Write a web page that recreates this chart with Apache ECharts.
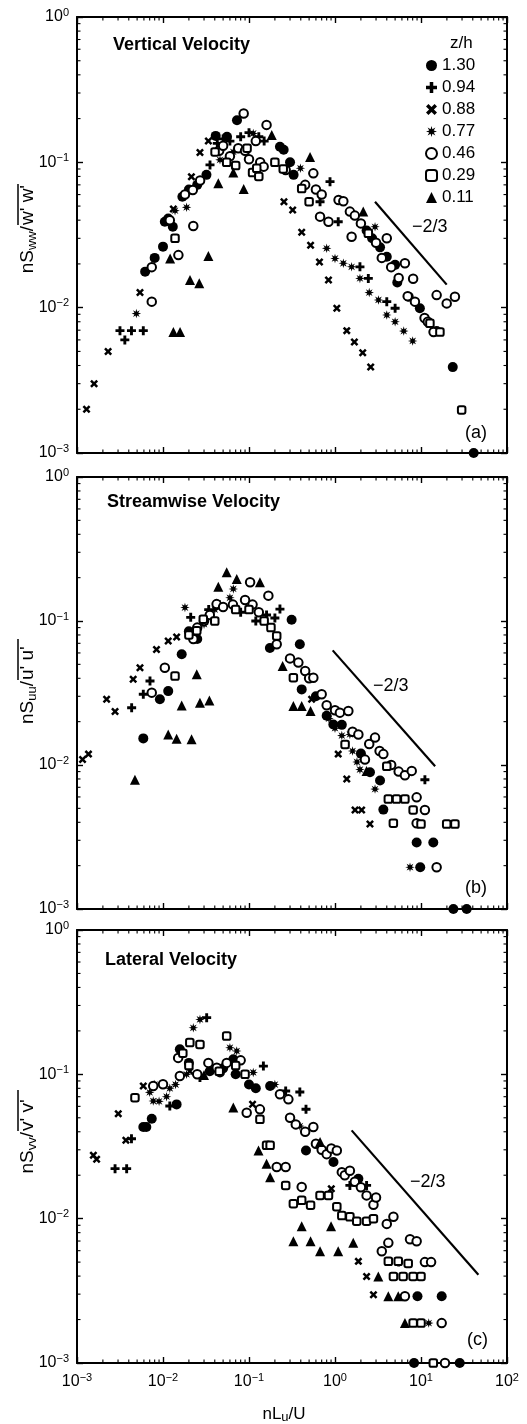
<!DOCTYPE html>
<html><head><meta charset="utf-8">
<script src="https://cdn.jsdelivr.net/npm/echarts@6/dist/echarts.min.js"></script>
<style>html,body{margin:0;padding:0;background:#fff}#c{width:527px;height:1424px}</style>
</head><body><div id="c"></div>
<script>
// ---------------- data ----------------
const zhLevels = ['1.30', '0.94', '0.88', '0.77', '0.46', '0.29', '0.11'];
const panelTitles = ['Vertical Velocity', 'Streamwise Velocity', 'Lateral Velocity'];
const panelTags = ['(a)', '(b)', '(c)'];
const velLetters = ['w', 'u', 'v'];
const slopeText = '\u22122/3';
const X_MIN = 1e-3, X_MAX = 1e2, Y_MIN = 1e-3, Y_MAX = 1;
const minorMultipliers = [2, 3, 4, 5, 6, 7, 8, 9];

// panel (a) vertical velocity
const a130 = [[0.0062,0.0177],[0.008,0.022],[0.010,0.0263],[0.0105,0.039],[0.0115,0.041],[0.013,0.036],[0.0168,0.058],[0.02,0.065],[0.025,0.07],[0.032,0.082],[0.041,0.152],[0.0555,0.15],[0.0725,0.195],[0.229,0.128],[0.253,0.122],[0.30,0.10],[0.33,0.082],[2.33,0.034],[2.7,0.03],[3.34,0.026],[4.0,0.0224],[5.0,0.0197],[5.3,0.0149],[7.2,0.0119],[9.7,0.0099],[15.2,0.0069],[23.4,0.0039],[41,0.001]];
const a094 = [[0.00316,0.00695],[0.0036,0.006],[0.0043,0.00695],[0.0059,0.00695],[0.0352,0.096],[0.0428,0.135],[0.05,0.145],[0.06,0.14],[0.08,0.15],[0.1,0.16],[0.13,0.15],[0.15,0.14],[0.875,0.0736],[0.67,0.0536],[1.09,0.039],[1.95,0.0191],[2.44,0.0159],[4.0,0.011],[5.0,0.0099]];
const a088 = [[0.00129,0.002],[0.00158,0.003],[0.0023,0.005],[0.0054,0.0127],[0.0132,0.0477],[0.0214,0.0797],[0.0269,0.117],[0.0337,0.14],[0.255,0.0536],[0.322,0.047],[0.41,0.033],[0.52,0.0269],[0.66,0.0206],[0.84,0.0155],[1.05,0.0099],[1.37,0.00695],[1.68,0.0058],[2.1,0.0049],[2.6,0.0039]];
const a077 = [[0.0049,0.0091],[0.0138,0.0465],[0.0188,0.049],[0.046,0.104],[0.0657,0.118],[0.112,0.158],[0.396,0.091],[2.92,0.036],[0.80,0.0256],[1.0,0.0218],[1.25,0.0202],[1.56,0.0191],[1.95,0.0159],[2.5,0.0127],[3.2,0.0113],[4.0,0.0089],[5.0,0.008],[6.3,0.0069],[8.0,0.0059]];
const a046 = [[0.0074,0.011],[0.0074,0.019],[0.012,0.04],[0.0151,0.023],[0.018,0.06],[0.0225,0.0365],[0.0222,0.0645],[0.027,0.075],[0.045,0.12],[0.05,0.13],[0.06,0.11],[0.075,0.125],[0.0867,0.217],[0.09,0.12],[0.1,0.105],[0.12,0.14],[0.135,0.1],[0.16,0.181],[0.148,0.0934],[0.267,0.0886],[0.45,0.07],[0.56,0.084],[0.6,0.065],[0.7,0.06],[0.67,0.0423],[0.84,0.039],[1.1,0.055],[1.25,0.054],[1.49,0.0458],[1.56,0.0308],[1.7,0.043],[2.0,0.038],[3.0,0.028],[3.5,0.022],[4.0,0.030],[4.5,0.019],[5.5,0.016],[6.5,0.0202],[7,0.012],[8.1,0.0158],[8.5,0.011],[11,0.0085],[12,0.008],[14,0.0068],[15.2,0.0122],[19.9,0.0107],[24.8,0.0119]];
const a029 = [[0.0138,0.030],[0.0403,0.118],[0.055,0.1],[0.07,0.095],[0.095,0.125],[0.11,0.085],[0.123,0.091],[0.13,0.08],[0.2,0.1],[0.25,0.09],[0.41,0.066],[0.50,0.0536],[2.44,0.0325],[12.7,0.0078],[16.6,0.0068],[29.7,0.00198]];
const a011 = [[0.0121,0.0218],[0.0132,0.0068],[0.0158,0.0068],[0.0206,0.0155],[0.0264,0.0147],[0.0337,0.0227],[0.044,0.0718],[0.0657,0.085],[0.0867,0.0656],[0.184,0.154],[0.513,0.109],[2.13,0.0458]];
const slopeA = [[2.92,0.0536],[19.9,0.0144]];

// panel (b) streamwise velocity
const b130 = [[0.0059,0.0153],[0.0092,0.0286],[0.0115,0.0326],[0.0165,0.0587],[0.02,0.085],[0.025,0.075],[0.175,0.065],[0.313,0.102],[0.39,0.0689],[0.41,0.0335],[0.6,0.03],[0.8,0.022],[0.957,0.0191],[1.2,0.019],[2,0.012],[2.55,0.0089],[3.34,0.0078],[3.65,0.0049],[8.9,0.0029],[13.9,0.0029],[9.8,0.00195],[23.8,0.001],[34,0.001]];
const b094 = [[0.00432,0.025],[0.0059,0.031],[0.00706,0.0383],[0.021,0.106],[0.034,0.12],[0.045,0.13],[0.08,0.115],[0.12,0.10],[0.16,0.11],[0.2,0.105],[0.229,0.121],[11.1,0.0079]];
const b088 = [[0.00116,0.0109],[0.00136,0.0119],[0.00221,0.0286],[0.00277,0.0235],[0.0045,0.0394],[0.0054,0.0474],[0.0084,0.0635],[0.0115,0.0726],[0.0144,0.0774],[0.535,0.0286],[1.09,0.0119],[1.37,0.008],[1.71,0.00487],[2.04,0.00487],[2.55,0.00389]];
const b077 = [[0.018,0.124],[0.03,0.095],[0.04,0.12],[0.06,0.145],[0.0657,0.167],[0.85,0.021],[1.0,0.018],[1.2,0.016],[1.49,0.0163],[1.6,0.0125],[1.8,0.0105],[1.95,0.0093],[2.92,0.0068],[7.45,0.00195]];
const b046 = [[0.0074,0.0318],[0.0105,0.0474],[0.0225,0.075],[0.025,0.09],[0.03,0.1],[0.035,0.11],[0.042,0.131],[0.05,0.125],[0.065,0.13],[0.09,0.14],[0.103,0.186],[0.11,0.13],[0.13,0.115],[0.168,0.15],[0.21,0.0689],[0.3,0.055],[0.375,0.0514],[0.45,0.045],[0.5,0.04],[0.56,0.0404],[0.70,0.031],[0.8,0.026],[1.0,0.024],[1.14,0.0231],[1.43,0.0237],[1.6,0.017],[1.87,0.0163],[2.23,0.0109],[2.5,0.014],[2.92,0.0155],[3.3,0.0125],[3.65,0.0119],[4.5,0.01],[5.5,0.009],[6.5,0.0085],[7.8,0.0091],[8.9,0.00596],[11.1,0.00487],[8.9,0.00394],[15.2,0.00195]];
const b029 = [[0.0138,0.0415],[0.02,0.08],[0.0247,0.0857],[0.0294,0.103],[0.04,0.1],[0.07,0.12],[0.1,0.12],[0.15,0.1],[0.18,0.09],[0.21,0.0787],[0.328,0.0404],[1.31,0.0139],[4.0,0.0098],[4.17,0.0058],[5.2,0.0058],[6.5,0.0058],[8.1,0.00487],[4.77,0.00394],[10.0,0.00389],[19.9,0.00389],[24.8,0.00389]];
const b011 = [[0.00472,0.0079],[0.0115,0.0163],[0.0144,0.0152],[0.0215,0.0151],[0.0165,0.0259],[0.0269,0.0271],[0.0346,0.0281],[0.0247,0.0426],[0.044,0.173],[0.055,0.218],[0.072,0.196],[0.134,0.186],[0.246,0.0487],[0.328,0.0257],[0.41,0.0257],[0.52,0.0237],[2.33,0.0091]];
const slopeB = [[0.94,0.0625],[14.6,0.0098]];

// panel (c) lateral velocity
const c130 = [[0.0059,0.0432],[0.0064,0.0432],[0.0074,0.0493],[0.0144,0.0619],[0.0157,0.149],[0.02,0.12],[0.035,0.105],[0.046,0.103],[0.05,0.11],[0.0657,0.127],[0.07,0.1],[0.1,0.085],[0.12,0.08],[0.176,0.083],[0.46,0.0297],[0.96,0.0247],[1.87,0.0189],[9.1,0.0029],[17.4,0.0029],[8.3,0.001],[28.2,0.001]];
const c094 = [[0.00277,0.0222],[0.00378,0.0222],[0.0043,0.0358],[0.012,0.0604],[0.0269,0.095],[0.0322,0.247],[0.147,0.114],[0.267,0.0767],[0.39,0.0754],[0.46,0.0573],[1.49,0.017],[2.33,0.017],[5.5,0.005]];
const c088 = [[0.00155,0.0275],[0.00169,0.0258],[0.00302,0.0534],[0.0037,0.0349],[0.0059,0.083],[0.0205,0.105],[0.11,0.062],[0.906,0.0161],[1.87,0.00506],[2.33,0.00398],[2.8,0.00297]];
const c077 = [[0.007,0.075],[0.0077,0.0653],[0.008,0.085],[0.009,0.065],[0.011,0.07],[0.012,0.08],[0.014,0.085],[0.0188,0.10],[0.0225,0.21],[0.0269,0.24],[0.06,0.153],[0.072,0.145],[0.112,0.103],[0.20,0.085],[0.39,0.0438],[12.3,0.00189]];
const c046 = [[0.0077,0.083],[0.010,0.0853],[0.015,0.13],[0.0157,0.0973],[0.025,0.1],[0.0337,0.12],[0.0422,0.111],[0.055,0.12],[0.08,0.125],[0.094,0.0542],[0.134,0.0572],[0.21,0.0228],[0.267,0.0228],[0.41,0.0166],[0.229,0.0727],[0.287,0.0671],[0.3,0.05],[0.35,0.045],[0.45,0.04],[0.56,0.0432],[0.6,0.033],[0.7,0.03],[0.8,0.028],[0.906,0.0306],[1.05,0.0297],[1.2,0.021],[1.3,0.02],[1.49,0.0215],[1.7,0.018],[2.0,0.0165],[2.33,0.0145],[2.8,0.0125],[3,0.014],[4.0,0.0092],[4.78,0.0103],[4.17,0.0068],[3.5,0.00594],[7.45,0.0072],[8.9,0.00697],[11.1,0.005],[13.1,0.005],[6.5,0.0029],[17.4,0.00189],[19,0.001]];
const c029 = [[0.00472,0.0689],[0.017,0.14],[0.02,0.115],[0.0205,0.166],[0.0269,0.161],[0.045,0.105],[0.055,0.184],[0.07,0.115],[0.09,0.1],[0.134,0.0488],[0.16,0.0322],[0.176,0.0322],[0.267,0.017],[0.328,0.0127],[0.41,0.0134],[0.52,0.0124],[0.67,0.0145],[0.84,0.0145],[1.05,0.0121],[1.2,0.0105],[1.49,0.0103],[1.79,0.0096],[2.33,0.0096],[2.8,0.01],[4.17,0.00506],[5.44,0.00506],[7.1,0.0049],[4.78,0.00398],[6.2,0.00398],[8.1,0.00398],[10,0.00398],[8.1,0.00189],[10,0.00189],[13.9,0.001]];
const c011 = [[0.03,0.099],[0.0657,0.0588],[0.129,0.0297],[0.16,0.024],[0.176,0.0194],[0.41,0.00885],[0.328,0.00697],[0.52,0.00697],[0.67,0.00594],[0.67,0.034],[0.9,0.00885],[1.09,0.00594],[1.63,0.0068],[3.19,0.00398],[4.17,0.0029],[5.44,0.0029],[6.5,0.00189]];
const slopeC = [[1.56,0.0409],[46.5,0.00409]];

// ---------------- build ----------------
const panelSeries = [
  [a130, a094, a088, a077, a046, a029, a011],
  [b130, b094, b088, b077, b046, b029, b011],
  [c130, c094, c088, c077, c046, c029, c011]
];
const panelSlopes = [slopeA, slopeB, slopeC];

const FONT = '"Liberation Sans", Arial, Helvetica, sans-serif';
const PLUS = 'path://M3.4,0H6.6V3.4H10V6.6H6.6V10H3.4V6.6H0V3.4H3.4Z';
const XMARK = 'path://M0,2.2L2.2,0L5,2.8L7.8,0L10,2.2L7.2,5L10,7.8L7.8,10L5,7.2L2.2,10L0,7.8L2.8,5Z';
const STAR8 = 'path://M10,5L7.03,5.84L8.54,8.54L5.84,7.03L5,10L4.16,7.03L1.46,8.54L2.97,5.84L0,5L2.97,4.16L1.46,1.46L4.16,2.97L5,0L5.84,2.97L8.54,1.46L7.03,4.16Z';
const markerStyles = [
  {symbol: 'circle', symbolSize: 10, borderWidth: 0},
  {symbol: PLUS, symbolSize: 9, borderWidth: 0},
  {symbol: XMARK, symbolSize: 8, borderWidth: 0},
  {symbol: STAR8, symbolSize: 9.5, borderWidth: 0},
  {symbol: 'emptyCircle', symbolSize: 8.5, borderWidth: 2.2},
  {symbol: 'emptyRoundRect', symbolSize: 7.5, borderWidth: 2},
  {symbol: 'triangle', symbolSize: 10, borderWidth: 0}
];

const grids = [
  {left: 77, top: 17, width: 430, height: 436},
  {left: 77, top: 477, width: 430, height: 432},
  {left: 77, top: 930, width: 430, height: 433}
];

function powLabel(v) {
  const e = Math.round(Math.log10(v));
  return '10{s|' + (e < 0 ? '\u2212' + (-e) : String(e)) + '}';
}
const labelRich = {s: {fontSize: 11, lineHeight: 12, verticalAlign: 'top', fontFamily: FONT, color: '#000'}};
const axisLineStyle = {color: '#000', width: 2};

const xAxes = [], yAxes = [], series = [];
grids.forEach((g, i) => {
  ['bottom', 'top'].forEach((pos, k) => {
    xAxes.push({
      type: 'log', logBase: 10, gridIndex: i, position: pos, min: X_MIN, max: X_MAX, splitNumber: 5,
      axisLine: {show: true, onZero: false, lineStyle: axisLineStyle},
      axisTick: {show: true, inside: true, length: 6, lineStyle: {color: '#000', width: 1.4}},
      axisLabel: {show: (i === 2 && k === 0), formatter: powLabel, margin: 9, fontSize: 16, lineHeight: 20,
        fontFamily: FONT, color: '#000', rich: labelRich, showMinLabel: true, showMaxLabel: true},
      splitLine: {show: false}
    });
  });
  ['left', 'right'].forEach((pos, k) => {
    yAxes.push({
      type: 'log', logBase: 10, gridIndex: i, position: pos, min: Y_MIN, max: Y_MAX, splitNumber: 3,
      axisLine: {show: true, onZero: false, lineStyle: axisLineStyle},
      axisTick: {show: true, inside: true, length: 6, lineStyle: {color: '#000', width: 1.4}},
      axisLabel: {show: k === 0, formatter: powLabel, margin: 8, fontSize: 16, lineHeight: 20,
        fontFamily: FONT, color: '#000', rich: labelRich, showMinLabel: true, showMaxLabel: true},
      splitLine: {show: false}
    });
  });

  panelSeries[i].forEach((pts, s) => {
    const m = markerStyles[s];
    series.push({
      type: 'scatter', name: zhLevels[s], xAxisIndex: 2 * i, yAxisIndex: 2 * i,
      symbol: m.symbol, symbolSize: m.symbolSize, data: pts, silent: true,
      itemStyle: {color: '#000', borderColor: '#000', borderWidth: m.borderWidth, opacity: 1}
    });
  });

  series.push({
    type: 'line', name: 'slope', xAxisIndex: 2 * i, yAxisIndex: 2 * i, data: panelSlopes[i],
    symbol: 'none', silent: true, lineStyle: {color: '#000', width: 2.2}
  });

  // minor ticks on all four sides, placed through the axes' own log scales
  const tickData = [];
  for (let d = -3; d <= 1; d++) minorMultipliers.forEach(m => tickData.push([m * Math.pow(10, d), Y_MIN, 0]));
  for (let d = -3; d <= -1; d++) minorMultipliers.forEach(m => tickData.push([X_MIN, m * Math.pow(10, d), 1]));
  series.push({
    type: 'custom', name: 'minorTicks', xAxisIndex: 2 * i, yAxisIndex: 2 * i, silent: true, clip: false,
    encode: {x: 0, y: 1}, data: tickData,
    renderItem: function (params, api) {
      const L = 3.5, st = {stroke: '#000', lineWidth: 1.1};
      if (api.value(2) === 0) {
        const v = api.value(0);
        const b = api.coord([v, Y_MIN]), t = api.coord([v, Y_MAX]);
        return {type: 'group', children: [
          {type: 'line', shape: {x1: b[0], y1: b[1], x2: b[0], y2: b[1] - L}, style: st},
          {type: 'line', shape: {x1: t[0], y1: t[1], x2: t[0], y2: t[1] + L}, style: st}
        ]};
      }
      const v = api.value(1);
      const l = api.coord([X_MIN, v]), r = api.coord([X_MAX, v]);
      return {type: 'group', children: [
        {type: 'line', shape: {x1: l[0], y1: l[1], x2: l[0] + L, y2: l[1]}, style: st},
        {type: 'line', shape: {x1: r[0], y1: r[1], x2: r[0] - L, y2: r[1]}, style: st}
      ]};
    }
  });
});

// ---------------- text decorations ----------------
const titlePos = [[113, 45], [107, 502], [105, 960]];
const tagPos = [[465, 433], [465, 888], [467, 1340]];
const slopePos = [[412, 227], [373, 686], [410, 1182]];
const yNameAnchor = [226, 681, 1132];

function txt(x, y, text, size, extra) {
  return {type: 'text', x: x, y: y, silent: true,
    style: Object.assign({text: text, fontSize: size, fontFamily: FONT, fill: '#000', align: 'left', verticalAlign: 'middle'}, extra || {})};
}

const graphic = [];
grids.forEach((g, i) => {
  graphic.push(txt(titlePos[i][0], titlePos[i][1], panelTitles[i], 18, {fontWeight: 'bold'}));
  graphic.push(txt(tagPos[i][0], tagPos[i][1], panelTags[i], 18));
  graphic.push(txt(slopePos[i][0], slopePos[i][1], slopeText, 18));
  const c = velLetters[i];
  graphic.push({
    type: 'group', x: 28, y: yNameAnchor[i], rotation: Math.PI / 2, silent: true,
    children: [
      {type: 'text', x: 0, y: 0, style: {text: 'nS{b|' + c + c + '}/', fontSize: 19, lineHeight: 22, fontFamily: FONT, fill: '#000',
        align: 'right', verticalAlign: 'middle', rich: {b: {fontSize: 13, lineHeight: 12, verticalAlign: 'bottom', fontFamily: FONT, fill: '#000'}}}},
      {type: 'text', x: 1, y: 0, style: {text: c + "' " + c + "'", fontSize: 19, fontFamily: FONT, fill: '#000', align: 'left', verticalAlign: 'middle'}},
      {type: 'line', shape: {x1: 1, y1: -10, x2: 42, y2: -10}, style: {stroke: '#000', lineWidth: 1.5}}
    ]
  });
});
graphic.push(txt(450, 43, 'z/h', 17));
graphic.push({type: 'text', x: 284, y: 1414, silent: true,
  style: {text: 'nL{b|u}/U', fontSize: 17, lineHeight: 20, fontFamily: FONT, fill: '#000', align: 'center', verticalAlign: 'middle',
    rich: {b: {fontSize: 13, lineHeight: 12, verticalAlign: 'bottom', fontFamily: FONT, fill: '#000'}}}});

const chart = echarts.init(document.getElementById('c'), null, {renderer: 'canvas'});
chart.setOption({
  animation: false,
  backgroundColor: '#fff',
  grid: grids,
  xAxis: xAxes,
  yAxis: yAxes,
  legend: {
    data: zhLevels, orient: 'vertical', left: 420, top: 52, itemWidth: 11, itemHeight: 11, itemGap: 5,
    selectedMode: false, textStyle: {fontSize: 17, lineHeight: 17, fontFamily: FONT, color: '#000'}
  },
  series: series,
  graphic: graphic
});
</script>
</body></html>
